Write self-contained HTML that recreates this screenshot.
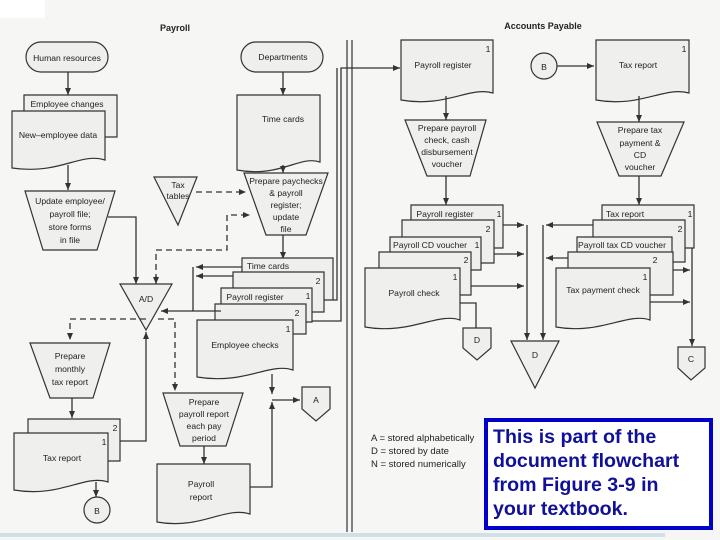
<!DOCTYPE html>
<html><head><style>
html,body{margin:0;padding:0;background:#f6f6f4;}
svg{display:block;}
text{font-family:"Liberation Sans",sans-serif;font-size:8.6px;fill:#222;text-anchor:middle;}
.s{fill:#efefed;stroke:#333;stroke-width:1.2;}
.l{fill:none;stroke:#333;stroke-width:1.3;}
.d{fill:none;stroke:#333;stroke-width:1.3;stroke-dasharray:6,4;}
.lg{text-anchor:start;font-size:9.5px;}
.b{text-anchor:start;font-size:19.6px;fill:#10109a;font-weight:bold;}
</style></head><body>
<svg width="720" height="540" viewBox="0 0 720 540" xmlns="http://www.w3.org/2000/svg">
<defs><marker id="a" markerWidth="8" markerHeight="8" refX="7" refY="4" orient="auto" markerUnits="userSpaceOnUse"><path d="M0,1 L7,4 L0,7 Z" fill="#333"/></marker></defs>
<rect x="0" y="0" width="45" height="18" fill="#fff"/>
<text x="175" y="31" style="font-weight:bold;font-size:9px">Payroll</text>
<text x="543" y="29" style="font-weight:bold;font-size:9px">Accounts Payable</text>
<line x1="347" y1="40" x2="347" y2="532" stroke="#333" stroke-width="1.2"/>
<line x1="352" y1="40" x2="352" y2="532" stroke="#333" stroke-width="1.2"/>

<rect class="s" x="26" y="42" width="82" height="30" rx="15"/>
<text x="67" y="61">Human resources</text>
<line class="l" x1="68" y1="72" x2="68" y2="95" marker-end="url(#a)"/>
<path class="s" d="M24,95 H117 V137 H24 Z"/>
<text x="67" y="107">Employee changes</text>
<path class="s" d="M12,111 H105 V160 C80,152 60,175 12,168 Z"/>
<text x="58" y="138">New–employee data</text>
<line class="l" x1="68" y1="165" x2="68" y2="190" marker-end="url(#a)"/>
<path class="s" d="M25,191 H115 L97,250 H43 Z"/>
<text x="70" y="204">Update employee/</text>
<text x="70" y="217">payroll file;</text>
<text x="70" y="230">store forms</text>
<text x="70" y="243">in file</text>
<polyline class="l" points="108,217 136,217 136,284" marker-end="url(#a)"/>

<rect class="s" x="241" y="42" width="82" height="30" rx="15"/>
<text x="283" y="60">Departments</text>
<line class="l" x1="283" y1="72" x2="283" y2="95" marker-end="url(#a)"/>
<path class="s" d="M237,95 H320 V162 C300,155 280,178 237,170 Z"/>
<text x="283" y="122">Time cards</text>
<line class="l" x1="283" y1="165" x2="283" y2="173" marker-end="url(#a)"/>
<path class="s" d="M244,173 H328 L306,235 H266 Z"/>
<text x="286" y="184">Prepare paychecks</text>
<text x="286" y="196">&amp; payroll</text>
<text x="286" y="208">register;</text>
<text x="286" y="220">update</text>
<text x="286" y="232">file</text>
<path class="s" d="M154,177 H197 L178,225 Z"/>
<text x="178" y="188">Tax</text>
<text x="178" y="199">tables</text>
<line class="d" x1="196" y1="192" x2="246" y2="192" marker-end="url(#a)"/>
<polyline class="d" points="156,280 156,250 227,250 227,215 250,215" marker-end="url(#a)"/>
<line class="l" x1="156" y1="276" x2="156" y2="284" marker-end="url(#a)"/>
<line class="l" x1="283" y1="235" x2="283" y2="259" marker-end="url(#a)"/>

<path class="s" d="M242,258 H333 V300 H242 Z"/>
<text x="268" y="269">Time cards</text>
<path class="s" d="M233,272 H324 V312 H233 Z"/>
<text x="318" y="284">2</text>
<path class="s" d="M221,288 H312 V322 H221 Z"/>
<text x="255" y="300">Payroll register</text>
<text x="308" y="299">1</text>
<path class="s" d="M215,304 H306 V334 H215 Z"/>
<text x="297" y="316">2</text>
<path class="s" d="M197,320 H293 V370 C270,362 245,385 197,377 Z"/>
<text x="288" y="332">1</text>
<text x="245" y="348">Employee checks</text>
<polyline class="l" points="242,267 196,267" marker-end="url(#a)"/>
<polyline class="l" points="233,276 196,276" marker-end="url(#a)"/>
<polyline class="l" points="221,311 193,311 193,267"/>
<line class="l" x1="193" y1="311" x2="161" y2="311" marker-end="url(#a)"/>
<polyline class="l" points="333,300 337,300 337,68"/>
<polyline class="l" points="312,321 341,321 341,68 400,68" marker-end="url(#a)"/>

<path class="s" d="M120,284 H172 L146,330 Z"/>
<text x="146" y="302">A/D</text>
<polyline class="d" points="146,319 70,319 70,340" marker-end="url(#a)"/>
<polyline class="d" points="158,319 175,319 175,391" marker-end="url(#a)"/>

<path class="s" d="M30,343 H110 L93,398 H50 Z"/>
<text x="70" y="359">Prepare</text>
<text x="70" y="372">monthly</text>
<text x="70" y="385">tax report</text>
<line class="l" x1="72" y1="398" x2="72" y2="418" marker-end="url(#a)"/>
<path class="s" d="M28,419 H120 V461 H28 Z"/>
<text x="115" y="431">2</text>
<path class="s" d="M14,433 H108 V482 C85,474 60,498 14,490 Z"/>
<text x="104" y="445">1</text>
<text x="62" y="461">Tax report</text>
<polyline class="l" points="120,441 146,441 146,332" marker-end="url(#a)"/>
<line class="l" x1="96" y1="482" x2="96" y2="497" marker-end="url(#a)"/>
<circle class="s" cx="97" cy="510" r="13"/>
<text x="97" y="514">B</text>

<line class="l" x1="272" y1="374" x2="272" y2="394" marker-end="url(#a)"/>
<line class="l" x1="272" y1="400" x2="300" y2="400" marker-end="url(#a)"/>
<path class="s" d="M302,387 H330 V409 L316,421 L302,409 Z"/>
<text x="316" y="403">A</text>
<path class="s" d="M163,393 H243 L226,446 H180 Z"/>
<text x="204" y="405">Prepare</text>
<text x="204" y="417">payroll report</text>
<text x="204" y="429">each pay</text>
<text x="204" y="441">period</text>
<line class="l" x1="204" y1="446" x2="204" y2="464" marker-end="url(#a)"/>
<path class="s" d="M157,464 H250 V514 C225,506 200,530 157,522 Z"/>
<text x="201" y="487">Payroll</text>
<text x="201" y="500">report</text>
<polyline class="l" points="250,487 272,487 272,402" marker-end="url(#a)"/>

<path class="s" d="M401,40 H493 V93 C470,86 445,108 401,100 Z"/>
<text x="488" y="52">1</text>
<text x="443" y="68">Payroll register</text>
<line class="l" x1="446" y1="96" x2="446" y2="120" marker-end="url(#a)"/>
<path class="s" d="M405,120 H486 L470,176 H427 Z"/>
<text x="447" y="131">Prepare payroll</text>
<text x="447" y="143">check, cash</text>
<text x="447" y="155">disbursement</text>
<text x="447" y="167">voucher</text>
<line class="l" x1="446" y1="176" x2="446" y2="205" marker-end="url(#a)"/>
<path class="s" d="M411,205 H503 V248 H411 Z"/>
<text x="445" y="217">Payroll register</text>
<text x="499" y="217">1</text>
<path class="s" d="M402,220 H494 V263 H402 Z"/>
<text x="488" y="232">2</text>
<path class="s" d="M390,237 H481 V270 H390 Z"/>
<text x="430" y="248">Payroll CD voucher</text>
<text x="477" y="248">1</text>
<path class="s" d="M379,252 H471 V295 H379 Z"/>
<text x="466" y="263">2</text>
<path class="s" d="M365,268 H460 V320 C438,312 410,335 365,327 Z"/>
<text x="455" y="280">1</text>
<text x="414" y="296">Payroll check</text>
<line class="l" x1="503" y1="225" x2="524" y2="225" marker-end="url(#a)"/>
<line class="l" x1="494" y1="254" x2="524" y2="254" marker-end="url(#a)"/>
<line class="l" x1="471" y1="286" x2="524" y2="286" marker-end="url(#a)"/>
<line class="l" x1="527" y1="225" x2="527" y2="340" marker-end="url(#a)"/>
<polyline class="l" points="460,303 476,303 476,328"/>
<path class="s" d="M463,328 H491 V348 L477,360 L463,348 Z"/>
<text x="477" y="343">D</text>
<path class="s" d="M511,341 H559 L535,388 Z"/>
<text x="535" y="358">D</text>

<circle class="s" cx="544" cy="66" r="13"/>
<text x="544" y="70">B</text>
<line class="l" x1="557" y1="66" x2="594" y2="66" marker-end="url(#a)"/>
<path class="s" d="M596,40 H689 V93 C665,86 640,108 596,100 Z"/>
<text x="684" y="52">1</text>
<text x="638" y="68">Tax report</text>
<line class="l" x1="639" y1="96" x2="639" y2="122" marker-end="url(#a)"/>
<path class="s" d="M597,122 H684 L661,176 H619 Z"/>
<text x="640" y="133">Prepare tax</text>
<text x="640" y="146">payment &amp;</text>
<text x="640" y="158">CD</text>
<text x="640" y="170">voucher</text>
<line class="l" x1="639" y1="176" x2="639" y2="205" marker-end="url(#a)"/>
<path class="s" d="M602,205 H694 V248 H602 Z"/>
<text x="625" y="217">Tax report</text>
<text x="690" y="217">1</text>
<path class="s" d="M593,220 H685 V262 H593 Z"/>
<text x="680" y="232">2</text>
<path class="s" d="M577,237 H672 V270 H577 Z"/>
<text x="622" y="248">Payroll tax CD voucher</text>
<path class="s" d="M568,252 H673 V295 H568 Z"/>
<text x="655" y="263">2</text>
<path class="s" d="M556,268 H650 V320 C628,312 600,335 556,327 Z"/>
<text x="645" y="280">1</text>
<text x="603" y="293">Tax payment check</text>
<line class="l" x1="593" y1="225" x2="546" y2="225" marker-end="url(#a)"/>
<line class="l" x1="568" y1="258" x2="546" y2="258" marker-end="url(#a)"/>
<line class="l" x1="543" y1="225" x2="543" y2="340" marker-end="url(#a)"/>
<line class="l" x1="673" y1="270" x2="690" y2="270" marker-end="url(#a)"/>
<line class="l" x1="650" y1="302" x2="690" y2="302" marker-end="url(#a)"/>
<line class="l" x1="692" y1="248" x2="692" y2="346" marker-end="url(#a)"/>
<path class="s" d="M678,347 H705 V368 L691,380 L678,368 Z"/>
<text x="691" y="362">C</text>

<text class="lg" x="371" y="441">A = stored alphabetically</text>
<text class="lg" x="371" y="454">D = stored by date</text>
<text class="lg" x="371" y="467">N = stored numerically</text>

<rect x="486" y="420" width="225" height="108" fill="#fff" stroke="#0000c8" stroke-width="4"/>
<text class="b" x="493" y="443">This is part of the</text>
<text class="b" x="493" y="467">document flowchart</text>
<text class="b" x="493" y="491">from Figure 3-9 in</text>
<text class="b" x="493" y="515">your textbook.</text>
<rect x="0" y="533" width="665" height="4" fill="#cfe0e8"/>
</svg>
</body></html>
